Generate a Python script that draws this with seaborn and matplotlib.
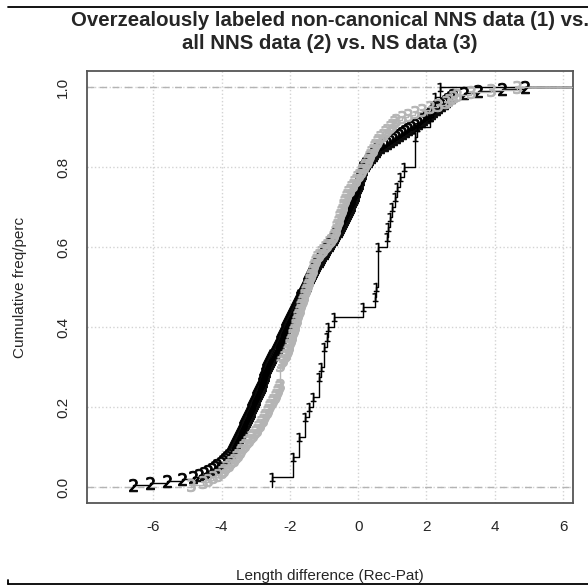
import numpy as np
import seaborn as sns
import matplotlib
matplotlib.use("Agg")
import matplotlib.pyplot as plt
from matplotlib.lines import Line2D

# length differences (Rec-Pat)
# (1) overzealously labeled non-canonical NNS data
nns_over = [-2.53, -1.91, -1.91, -1.72, -1.72, -1.55, -1.55, -1.43, -1.31, -1.14,
            -1.14, -1.10, -1.01, -1.01, -0.92, -0.87, -0.72, 0.15, 0.50, 0.52,
            0.58, 0.58, 0.58, 0.58, 0.84, 0.88, 0.93, 0.99, 1.08, 1.13,
            1.23, 1.33, 1.67, 1.67, 1.67, 1.71, 2.10, 2.20, 2.25, 2.40]

# (2) all NNS data
nns_all = [-6.60, -6.10, -5.60, -5.15, -4.85, -4.65, -4.52, -4.39, -4.29, -4.20,
           -4.12, -4.03, -3.97, -3.91, -3.85, -3.79, -3.73, -3.69, -3.66, -3.63,
           -3.60, -3.58, -3.55, -3.52, -3.49, -3.47, -3.44, -3.41, -3.38, -3.36,
           -3.33, -3.31, -3.28, -3.26, -3.23, -3.20, -3.18, -3.15, -3.13, -3.10,
           -3.08, -3.05, -3.03, -3.00, -2.98, -2.95, -2.93, -2.90, -2.88, -2.85,
           -2.83, -2.81, -2.80, -2.78, -2.76, -2.74, -2.72, -2.71, -2.69, -2.67,
           -2.64, -2.61, -2.58, -2.55, -2.52, -2.48, -2.45, -2.42, -2.39, -2.36,
           -2.33, -2.30, -2.28, -2.25, -2.23, -2.20, -2.18, -2.15, -2.13, -2.10,
           -2.08, -2.05, -2.03, -2.00, -1.97, -1.94, -1.91, -1.89, -1.86, -1.83,
           -1.80, -1.77, -1.74, -1.71, -1.69, -1.66, -1.63, -1.60, -1.57, -1.54,
           -1.51, -1.49, -1.46, -1.43, -1.40, -1.37, -1.34, -1.31, -1.29, -1.26,
           -1.23, -1.20, -1.16, -1.13, -1.09, -1.05, -1.01, -0.98, -0.94, -0.90,
           -0.86, -0.83, -0.79, -0.75, -0.71, -0.68, -0.64, -0.60, -0.57, -0.54,
           -0.51, -0.48, -0.45, -0.42, -0.39, -0.36, -0.34, -0.31, -0.28, -0.25,
           -0.22, -0.20, -0.17, -0.14, -0.12, -0.10, -0.09, -0.07, -0.05, -0.03,
           -0.01, 0.01, 0.02, 0.04, 0.06, 0.08, 0.10, 0.11, 0.13, 0.15,
           0.19, 0.24, 0.28, 0.33, 0.37, 0.42, 0.46, 0.51, 0.55, 0.65,
           0.75, 0.85, 0.94, 1.02, 1.11, 1.19, 1.28, 1.37, 1.47, 1.56,
           1.66, 1.75, 1.84, 1.91, 1.98, 2.06, 2.13, 2.20, 2.27, 2.35,
           2.42, 2.50, 2.57, 2.64, 2.72, 2.79, 3.10, 3.50, 4.20, 4.89]

# (3) NS data
ns = [-4.89, -4.54, -4.39, -4.25, -4.10, -4.00, -3.93, -3.86, -3.79, -3.71,
      -3.64, -3.58, -3.53, -3.47, -3.42, -3.36, -3.30, -3.25, -3.19, -3.13,
      -3.07, -3.02, -2.96, -2.92, -2.88, -2.84, -2.80, -2.76, -2.72, -2.68,
      -2.65, -2.61, -2.57, -2.53, -2.49, -2.45, -2.41, -2.37, -2.35, -2.32,
      -2.29, -2.28, -2.28, -2.28, -2.28, -2.28, -2.28, -2.28, -2.28, -2.25,
      -2.20, -2.16, -2.11, -2.08, -2.06, -2.04, -2.02, -1.99, -1.97, -1.95,
      -1.93, -1.91, -1.89, -1.86, -1.84, -1.82, -1.80, -1.78, -1.75, -1.73,
      -1.71, -1.69, -1.67, -1.65, -1.62, -1.60, -1.58, -1.55, -1.53, -1.50,
      -1.48, -1.45, -1.43, -1.41, -1.38, -1.36, -1.33, -1.31, -1.28, -1.26,
      -1.23, -1.21, -1.15, -1.09, -1.03, -0.97, -0.91, -0.85, -0.79, -0.73,
      -0.71, -0.69, -0.66, -0.64, -0.62, -0.59, -0.57, -0.55, -0.52, -0.50,
      -0.48, -0.45, -0.43, -0.41, -0.38, -0.36, -0.33, -0.29, -0.24, -0.20,
      -0.15, -0.11, -0.06, -0.02, 0.03, 0.07, 0.12, 0.17, 0.21, 0.25,
      0.28, 0.32, 0.36, 0.39, 0.43, 0.47, 0.50, 0.54, 0.59, 0.65,
      0.72, 0.78, 0.85, 0.92, 0.98, 1.05, 1.11, 1.28, 1.47, 1.66,
      1.86, 2.10, 2.34, 2.58, 2.67, 2.78, 2.90, 3.30, 3.90, 4.65]

x_ticks = [-6, -4, -2, 0, 2, 4, 6]
y_ticks = [0.0, 0.2, 0.4, 0.6, 0.8, 1.0]
gray = "#b4b4b4"

sns.set_style("white")
plt.rcParams['font.family'] = ['Liberation Sans', 'DejaVu Sans']

fig = plt.figure(figsize=(5.88, 5.86), dpi=100)
ax = fig.add_axes([87/588, 83/586, 486/588, 432/586])
xlim = (-7.94, 6.29)
ax.set_xlim(xlim)
ax.set_ylim(-0.04, 1.04)

ax.grid(True, ls=':', color='#d3d3d3', lw=1)
ax.set_axisbelow(True)
ax.axhline(0, color=gray, ls='--', lw=1, dashes=(5, 4), zorder=1)
ax.axhline(1, color=gray, ls='--', lw=1, dashes=(5, 4), zorder=1)

series = [(nns_over, 'black', '$1$', 6.5, 0.3),
          (nns_all, 'black', '$2$', 9, 0.7),
          (ns, gray, '$3$', 9, 0.7)]
for i, (vals, col, mk, ms, mw) in enumerate(series):
    vals = np.array(vals)
    sns.ecdfplot(x=vals, ax=ax, color=col, lw=1, zorder=2 + i)
    knots, cnt = np.unique(vals, return_counts=True)
    fx = np.cumsum(cnt) / len(vals)
    ax.plot([knots[-1], xlim[1]], [1, 1], color=col, lw=1, zorder=2 + i)
    ax.plot(knots, fx, ls='none', marker=mk, ms=ms, color=col, mew=mw, zorder=2 + i)

ax.set_xlim(xlim)
ax.set_xticks(x_ticks)
ax.set_xticklabels([str(t) for t in x_ticks])
ax.set_yticks(y_ticks)
ax.set_yticklabels(["%.1f" % t for t in y_ticks], rotation=90, va='center')
ax.tick_params(axis='both', length=7, width=1, color='#444444', labelsize=11, pad=5, direction='out')
for s in ax.spines.values():
    s.set_color('#555555')
    s.set_linewidth(1.3)

ax.set_xlabel("Length difference (Rec-Pat)", fontsize=11, labelpad=25.5)
ax.set_ylabel("Cumulative freq/perc", fontsize=11, labelpad=21)
ax.set_title("Overzealously labeled non-canonical NNS data (1) vs.\nall NNS data (2) vs. NS data (3)",
             fontsize=14.7, fontweight='bold', pad=16, linespacing=1.27)

# page rules above and below the plot
fig.add_artist(Line2D([8/588, 1], [1 - 7/586, 1 - 7/586], transform=fig.transFigure, color='black', lw=1.3))
fig.add_artist(Line2D([8/588, 1], [2/586, 2/586], transform=fig.transFigure, color='black', lw=1.3))
fig.add_artist(Line2D([8/588, 8/588], [2/586, 6/586], transform=fig.transFigure, color='black', lw=1.3))

fig.savefig("out.png", dpi=100)
